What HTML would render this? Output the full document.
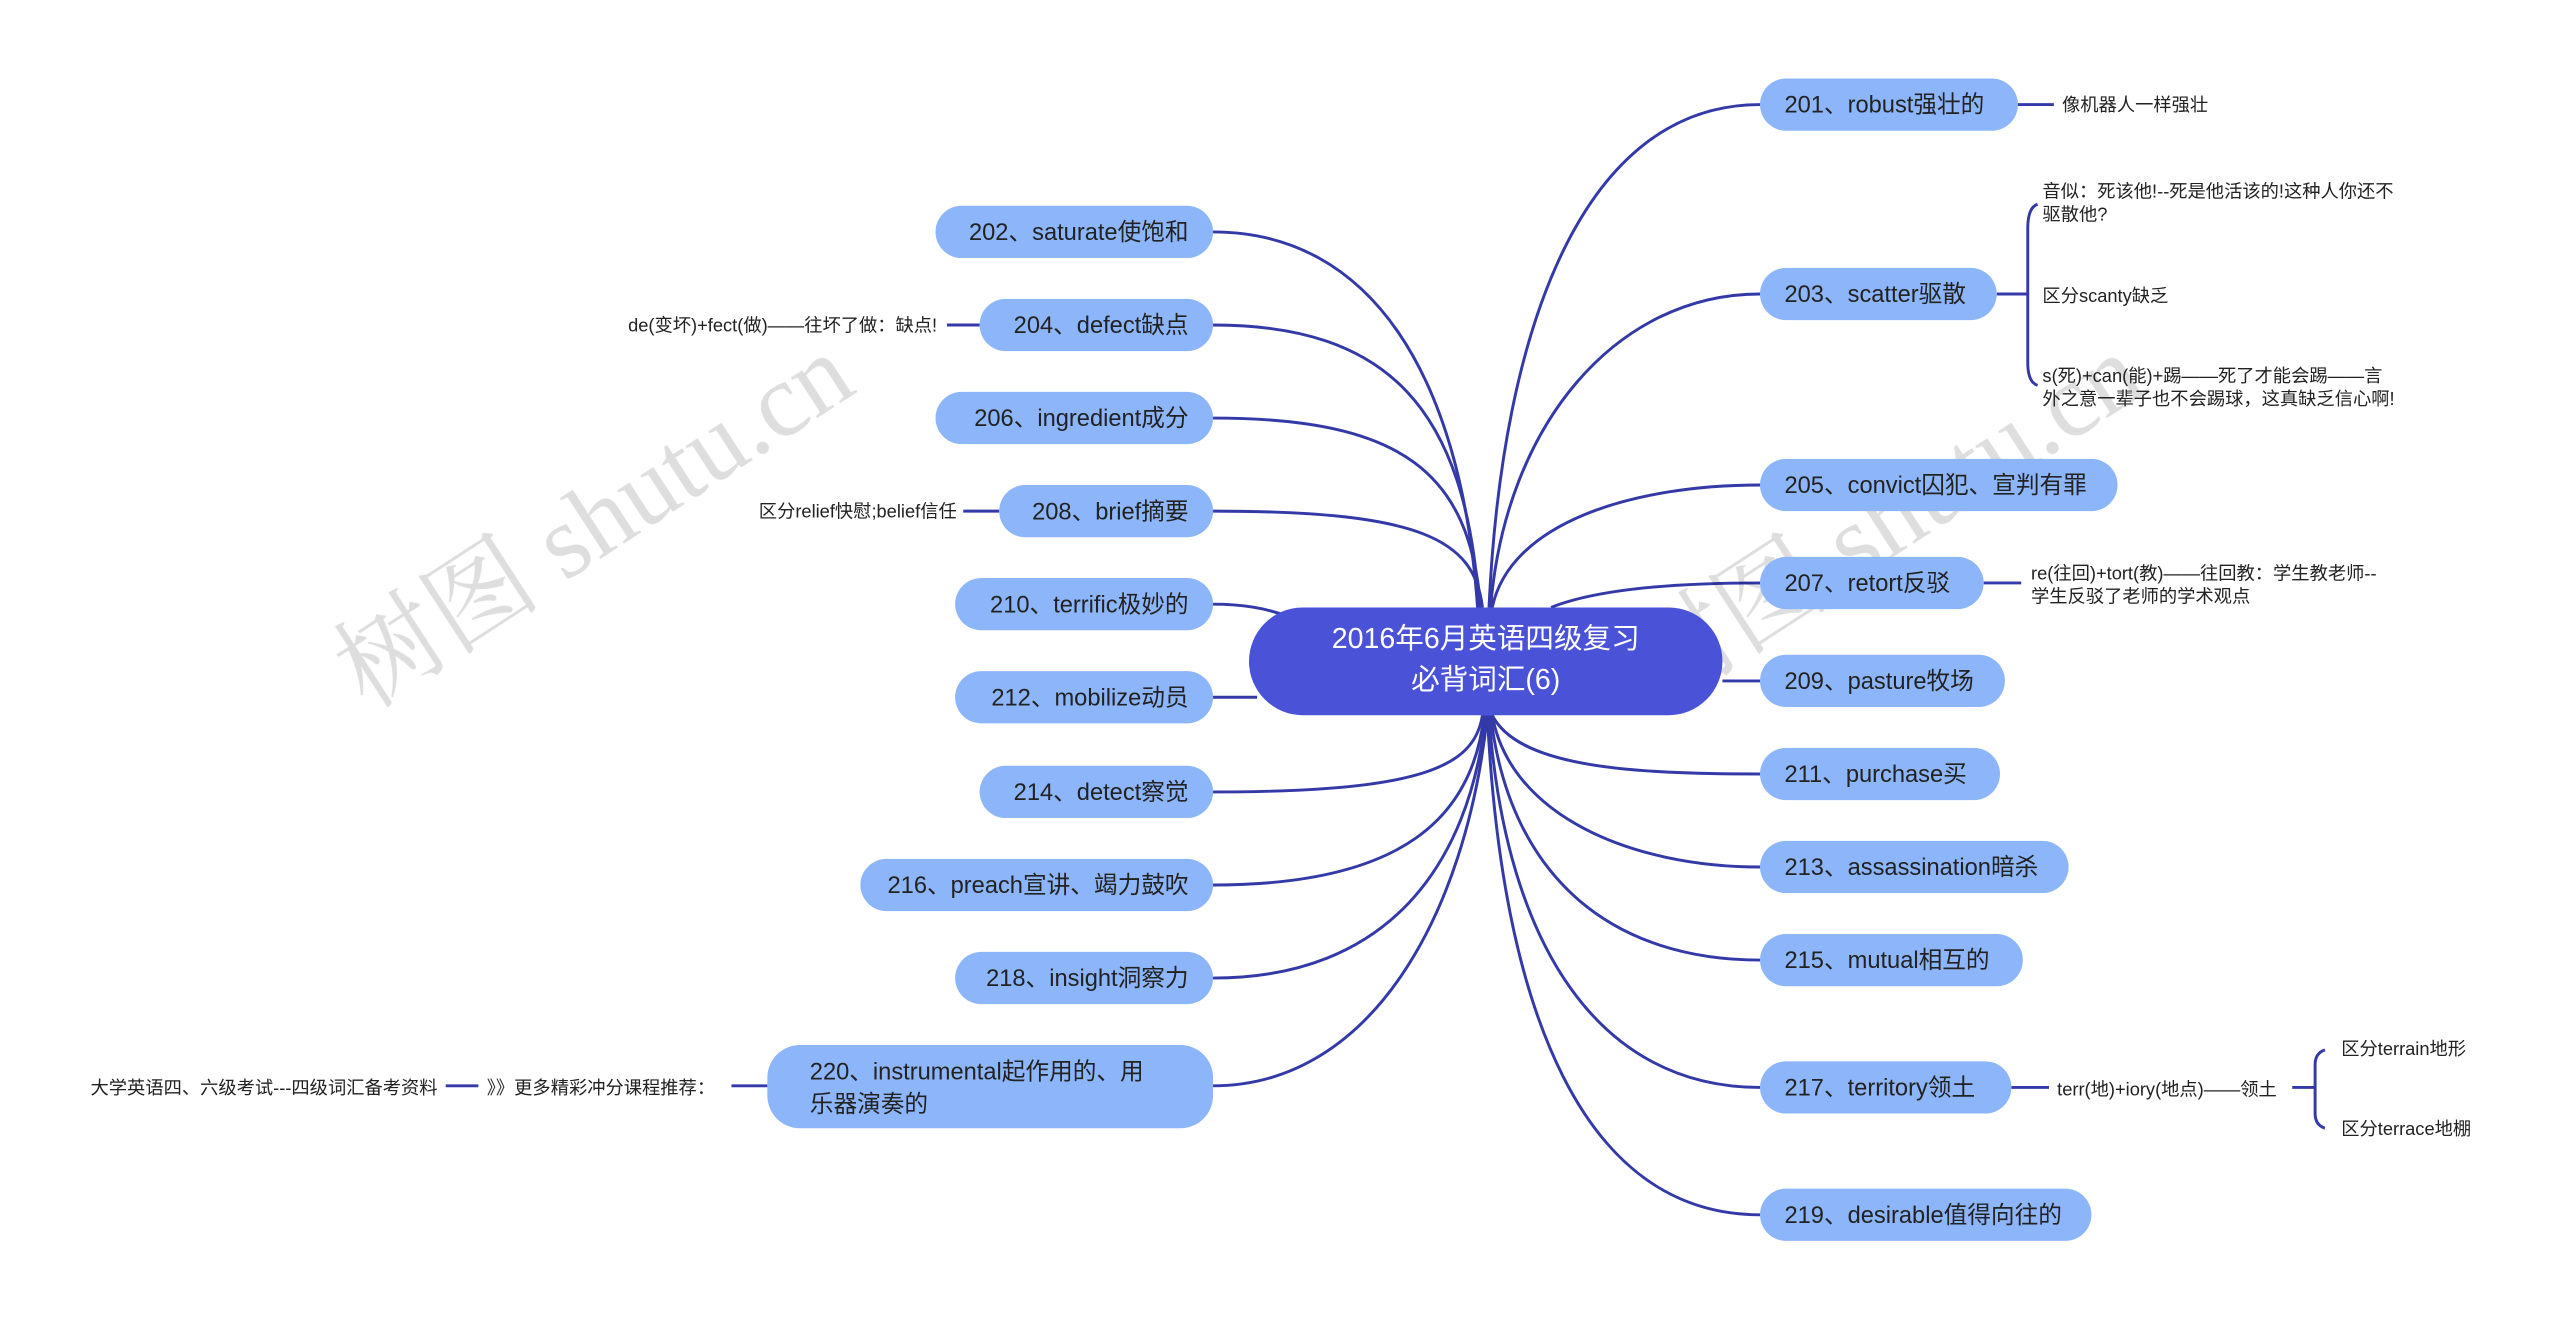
<!DOCTYPE html>
<html><head><meta charset="utf-8"><style>
html,body{margin:0;padding:0;background:#fff;}
svg{display:block;}
text{font-family:"Liberation Sans","Noto Sans CJK SC",sans-serif;}
.n{fill:#8db5fa;}
.t{font-size:14.5px;fill:#222;}
.s{font-size:11.2px;fill:#222;}
.l{fill:none;stroke:#3439a8;stroke-width:1.8;}
</style></head><body>
<svg width="2560" height="1321" viewBox="0 0 1568 809" xmlns="http://www.w3.org/2000/svg">
<rect width="1568" height="809" fill="#fff"/>
<g class="l">
<path d="M905,372 C895,230 840,142 743,142"/>
<path d="M906,372 C898,250 850,199 743,199"/>
<path d="M907,372 C900,290 860,256 743,256"/>
<path d="M908,372 C903,330 870,313 743,313"/>
<path d="M790,378 C775,372 760,370 743,370"/>
<path d="M770,427 L743,427"/>
<path d="M908,438 C903,470 870,485 743,485"/>
<path d="M909,438 C902,500 860,542 743,542"/>
<path d="M910,438 C900,530 850,599 743,599"/>
<path d="M911,438 C898,560 840,665 743,665"/>
<path d="M912,372 C920,200 970,64 1078,64"/>
<path d="M913,372 C922,260 990,180 1078,180"/>
<path d="M914,372 C925,320 1000,297 1078,297"/>
<path d="M950,372 C980,360 1030,357 1078,357"/>
<path d="M1055,417 L1078,417"/>
<path d="M914,438 C930,470 1000,474 1078,474"/>
<path d="M914,438 C925,500 1000,531 1078,531"/>
<path d="M913,438 C925,540 990,588 1078,588"/>
<path d="M912,438 C922,580 980,666 1078,666"/>
<path d="M911,438 C920,620 970,744 1078,744"/>
<path d="M1236,64 L1258,64"/>
<path d="M1223,180 L1242,180"/>
<path d="M1248,125 Q1242,127 1242,140 L1242,222 Q1242,234 1248,236"/>
<path d="M1215,357 L1238,357"/>
<path d="M1232,666 L1255,666"/>
<path d="M1404,666 L1418,666"/>
<path d="M1424,643 Q1418,645 1418,652 L1418,682 Q1418,689 1424,691"/>
<path d="M580,199 L600,199"/>
<path d="M590,313 L612,313"/>
<path d="M448,665 L470,665"/>
<path d="M273,665 L293,665"/>
</g>
<g font-size="64" fill="#000" opacity="0.13">
<text x="225" y="435" transform="rotate(-33 225 435)" style="font-family:'Liberation Serif','Noto Serif CJK SC',serif">树图 shutu.cn</text>
<text x="1015" y="435" transform="rotate(-33 1015 435)" style="font-family:'Liberation Serif','Noto Serif CJK SC',serif">树图 shutu.cn</text>
</g>
<rect x="765" y="372" width="290" height="66" rx="33" fill="#4a52d8"/>
<text x="910" y="397" text-anchor="middle" font-size="17.5" fill="#fff">2016年6月英语四级复习</text>
<text x="910" y="422" text-anchor="middle" font-size="17.5" fill="#fff">必背词汇(6)</text>
<g>
<rect class="n" x="573" y="126" width="170" height="32" rx="16"/><text class="t" x="728" y="147" text-anchor="end">202、saturate使饱和</text>
<rect class="n" x="600" y="183" width="143" height="32" rx="16"/><text class="t" x="728" y="204" text-anchor="end">204、defect缺点</text>
<rect class="n" x="573" y="240" width="170" height="32" rx="16"/><text class="t" x="728" y="261" text-anchor="end">206、ingredient成分</text>
<rect class="n" x="612" y="297" width="131" height="32" rx="16"/><text class="t" x="728" y="318" text-anchor="end">208、brief摘要</text>
<rect class="n" x="585" y="354" width="158" height="32" rx="16"/><text class="t" x="728" y="375" text-anchor="end">210、terrific极妙的</text>
<rect class="n" x="585" y="411" width="158" height="32" rx="16"/><text class="t" x="728" y="432" text-anchor="end">212、mobilize动员</text>
<rect class="n" x="600" y="469" width="143" height="32" rx="16"/><text class="t" x="728" y="490" text-anchor="end">214、detect察觉</text>
<rect class="n" x="527" y="526" width="216" height="32" rx="16"/><text class="t" x="728" y="547" text-anchor="end">216、preach宣讲、竭力鼓吹</text>
<rect class="n" x="585" y="583" width="158" height="32" rx="16"/><text class="t" x="728" y="604" text-anchor="end">218、insight洞察力</text>
<rect class="n" x="470" y="640" width="273" height="51" rx="20"/><text class="t" x="496" y="661">220、instrumental起作用的、用</text><text class="t" x="496" y="681">乐器演奏的</text>
</g>
<g>
<rect class="n" x="1078" y="48" width="158" height="32" rx="16"/><text class="t" x="1093" y="69">201、robust强壮的</text>
<rect class="n" x="1078" y="164" width="145" height="32" rx="16"/><text class="t" x="1093" y="185">203、scatter驱散</text>
<rect class="n" x="1078" y="281" width="219" height="32" rx="16"/><text class="t" x="1093" y="302">205、convict囚犯、宣判有罪</text>
<rect class="n" x="1078" y="341" width="137" height="32" rx="16"/><text class="t" x="1093" y="362">207、retort反驳</text>
<rect class="n" x="1078" y="401" width="150" height="32" rx="16"/><text class="t" x="1093" y="422">209、pasture牧场</text>
<rect class="n" x="1078" y="458" width="147" height="32" rx="16"/><text class="t" x="1093" y="479">211、purchase买</text>
<rect class="n" x="1078" y="515" width="189" height="32" rx="16"/><text class="t" x="1093" y="536">213、assassination暗杀</text>
<rect class="n" x="1078" y="572" width="161" height="32" rx="16"/><text class="t" x="1093" y="593">215、mutual相互的</text>
<rect class="n" x="1078" y="650" width="154" height="32" rx="16"/><text class="t" x="1093" y="671">217、territory领土</text>
<rect class="n" x="1078" y="728" width="203" height="32" rx="16"/><text class="t" x="1093" y="749">219、desirable值得向往的</text>
</g>
<g>
<text class="s" x="1263" y="68">像机器人一样强壮</text>
<text class="s" x="1251" y="121">音似：死该他!--死是他活该的!这种人你还不</text>
<text class="s" x="1251" y="135">驱散他?</text>
<text class="s" x="1251" y="185">区分scanty缺乏</text>
<text class="s" x="1251" y="234">s(死)+can(能)+踢——死了才能会踢——言</text>
<text class="s" x="1251" y="248">外之意一辈子也不会踢球，这真缺乏信心啊!</text>
<text class="s" x="1244" y="355">re(往回)+tort(教)——往回教：学生教老师--</text>
<text class="s" x="1244" y="369">学生反驳了老师的学术观点</text>
<text class="s" x="1260" y="671">terr(地)+iory(地点)——领土</text>
<text class="s" x="1434" y="646">区分terrain地形</text>
<text class="s" x="1434" y="695">区分terrace地棚</text>
<text class="s" x="574" y="203" text-anchor="end">de(变坏)+fect(做)——往坏了做：缺点!</text>
<text class="s" x="586" y="317" text-anchor="end">区分relief快慰;belief信任</text>
<text class="s" x="438" y="670" text-anchor="end">》》更多精彩冲分课程推荐：</text>
<text class="s" x="268" y="670" text-anchor="end">大学英语四、六级考试---四级词汇备考资料</text>
</g>
</svg>
</body></html>
